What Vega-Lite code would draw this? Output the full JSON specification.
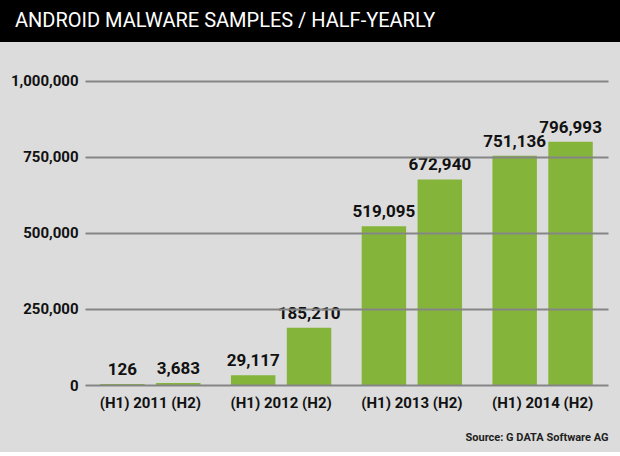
{
  "$schema": "https://vega.github.io/schema/vega-lite/v6.json",
  "background": "#dcdcdc",
  "padding": {"left": 0, "top": 0, "right": 0, "bottom": 10},
  "spacing": 0,
  "config": {
    "view": {"stroke": null},
    "font": "Roboto, Liberation Sans, sans-serif"
  },
  "vconcat": [
    {
      "width": 620,
      "height": 42,
      "view": {"fill": "#000000", "stroke": null},
      "data": {"values": [{"heading": "ANDROID MALWARE SAMPLES / HALF-YEARLY", "pos": 0}]},
      "mark": {"type": "text", "align": "left", "baseline": "middle", "dx": 15, "dy": 0, "fontSize": 20, "color": "#ffffff"},
      "encoding": {
        "x": {"field": "pos", "type": "quantitative", "scale": {"domain": [0, 1]}, "axis": null},
        "text": {"field": "heading"}
      }
    },
    {
      "width": 620,
      "height": 343,
      "data": {
        "values": [
          {"period": "(H1) 2011 (H2)", "half": "H1", "value": 126},
          {"period": "(H1) 2011 (H2)", "half": "H2", "value": 3683},
          {"period": "(H1) 2012 (H2)", "half": "H1", "value": 29117},
          {"period": "(H1) 2012 (H2)", "half": "H2", "value": 185210},
          {"period": "(H1) 2013 (H2)", "half": "H1", "value": 519095},
          {"period": "(H1) 2013 (H2)", "half": "H2", "value": 672940},
          {"period": "(H1) 2014 (H2)", "half": "H1", "value": 751136},
          {"period": "(H1) 2014 (H2)", "half": "H2", "value": 796993}
        ]
      },
      "encoding": {
        "x": {
          "field": "period",
          "type": "nominal",
          "sort": null,
          "scale": {"paddingInner": 0, "paddingOuter": 0.371, "align": 0.876},
          "axis": {
            "labelAngle": 0,
            "labelFontSize": 15,
            "labelFontWeight": "bold",
            "labelColor": "#111111",
            "labelPadding": 10,
            "domain": false,
            "ticks": false,
            "title": "Source: G DATA Software AG",
            "titleX": 608,
            "titleAnchor": "end",
            "titleAlign": "right",
            "titleFontSize": 11,
            "titleFontWeight": "bold",
            "titleColor": "#222222",
            "titlePadding": 21
          }
        },
        "xOffset": {
          "field": "half",
          "type": "nominal",
          "scale": {"paddingInner": 0.24, "paddingOuter": 0.29}
        },
        "y": {
          "field": "value",
          "type": "quantitative",
          "scale": {"domain": [0, 1128289], "nice": false},
          "axis": {
            "values": [0, 250000, 500000, 750000, 1000000],
            "format": ",d",
            "offset": -608,
            "tickSize": 523,
            "tickWidth": 2,
            "tickColor": "#858585",
            "labelFontSize": 15,
            "labelFontWeight": "bold",
            "labelColor": "#111111",
            "labelPadding": 7,
            "domain": false,
            "grid": false,
            "zindex": 1,
            "title": null
          }
        }
      },
      "layer": [
        {"mark": {"type": "bar", "color": "#84b53a", "stroke": "#84b53a", "strokeWidth": 2}},
        {
          "mark": {"type": "text", "baseline": "bottom", "dy": -6, "fontSize": 17, "fontWeight": "bold", "color": "#111111"},
          "encoding": {"text": {"field": "value", "type": "quantitative", "format": ",d"}}
        }
      ]
    }
  ]
}
